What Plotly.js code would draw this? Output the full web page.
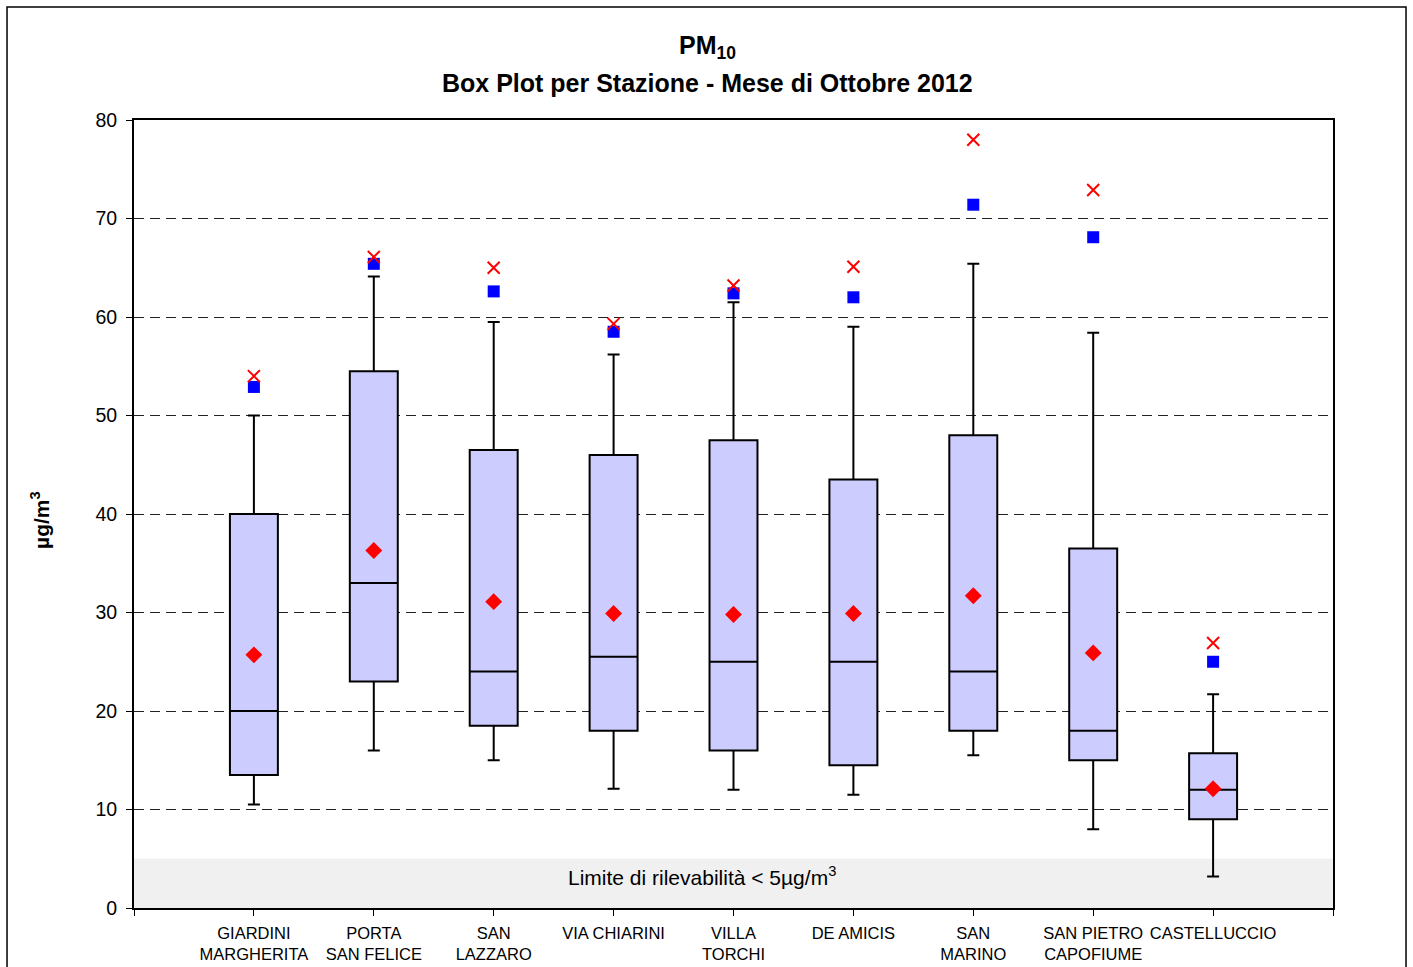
<!DOCTYPE html>
<html>
<head>
<meta charset="utf-8">
<script src="https://cdn.plot.ly/plotly-3.0.1.min.js"></script>
<style>html,body{margin:0;padding:0;background:#fff;}#chart{width:1413px;height:967px;}</style>
</head>
<body>
<div id="chart"></div>
<script>
const stations = ["GIARDINI<br>MARGHERITA","PORTA<br>SAN FELICE","SAN<br>LAZZARO","VIA CHIARINI","VILLA<br>TORCHI","DE AMICIS","SAN<br>MARINO","SAN PIETRO<br>CAPOFIUME","CASTELLUCCIO"];
const positions = [0,1,2,3,4,5,6,7,8];
const minVals    = [10.5, 16.0, 15.0, 12.1, 12.0, 11.5, 15.5,  8.0,  3.2];
const q1Vals     = [13.5, 23.0, 18.5, 18.0, 16.0, 14.5, 18.0, 15.0,  9.0];
const medianVals = [20.0, 33.0, 24.0, 25.5, 25.0, 25.0, 24.0, 18.0, 12.0];
const q3Vals     = [40.0, 54.5, 46.5, 46.0, 47.5, 43.5, 48.0, 36.5, 15.7];
const whiskTop   = [50.0, 64.1, 59.5, 56.2, 61.5, 59.0, 65.4, 58.4, 21.7];
const meanVals   = [25.7, 36.3, 31.1, 29.9, 29.8, 29.9, 31.7, 25.9, 12.1];
const p95Vals    = [52.9, 65.4, 62.6, 58.5, 62.4, 62.0, 71.4, 68.1, 25.0];
const maxVals    = [54.0, 66.1, 65.0, 59.3, 63.2, 65.1, 78.0, 72.9, 26.9];
const yTicks = [0,10,20,30,40,50,60,70,80];
const detectionLimit = 5;

const FONT = "Liberation Sans, Arial, sans-serif";

const traces = [
  {
    type: "box",
    x: positions,
    q1: q1Vals,
    median: medianVals,
    q3: q3Vals,
    lowerfence: minVals,
    upperfence: whiskTop,
    boxpoints: false,
    width: 0.4,
    whiskerwidth: 0.25,
    fillcolor: "#ccccff",
    line: {color: "#000000", width: 2},
    hoverinfo: "skip",
    showlegend: false
  },
  {
    type: "scatter", mode: "markers", x: positions, y: meanVals,
    marker: {symbol: "diamond", size: 13, color: "#ff0000", line: {width: 0}},
    showlegend: false, hoverinfo: "skip"
  },
  {
    type: "scatter", mode: "markers", x: positions, y: p95Vals,
    marker: {symbol: "square", size: 12, color: "#0000ff", line: {width: 0}},
    showlegend: false, hoverinfo: "skip"
  },
  {
    type: "scatter", mode: "markers", x: positions, y: maxVals,
    marker: {symbol: "x-thin-open", size: 12, color: "#ff0000", line: {width: 2, color: "#ff0000"}},
    showlegend: false, hoverinfo: "skip"
  }
];

const layout = {
  width: 1413, height: 967,
  margin: {l: 134, r: 80, t: 120, b: 59},
  paper_bgcolor: "#ffffff", plot_bgcolor: "#ffffff",
  font: {family: FONT, color: "#000000"},
  showlegend: false,
  xaxis: {
    range: [-1, 9],
    tickvals: positions, ticktext: stations,
    ticks: "outside", ticklen: 6, tickwidth: 1, tickcolor: "#000",
    ticklabelstandoff: 3,
    tickfont: {size: 16.5, family: FONT},
    minor: {tickvals: [-1, 9], ticks: "outside", ticklen: 6, tickwidth: 1, tickcolor: "#000", showgrid: false},
    showgrid: false, zeroline: false,
    showline: true, linecolor: "#000", linewidth: 2, mirror: true,
    fixedrange: true
  },
  yaxis: {
    range: [0, 80],
    tickvals: yTicks,
    ticks: "outside", ticklen: 6, tickwidth: 1, tickcolor: "#000",
    ticklabelstandoff: 5,
    tickfont: {size: 19.5, family: FONT},
    showgrid: true, gridcolor: "#222", gridwidth: 1, griddash: "10px,6px",
    zeroline: false,
    showline: true, linecolor: "#000", linewidth: 2, mirror: true,
    fixedrange: true
  },
  shapes: [
    {type: "rect", xref: "x", yref: "y", x0: -1, x1: 9, y0: 0, y1: detectionLimit,
     fillcolor: "#f0f0f0", line: {width: 0}, layer: "below"},
    {type: "rect", xref: "paper", yref: "paper", x0: -0.1059, x1: 1.0609, y0: -0.2, y1: 1.1434,
     fillcolor: "rgba(0,0,0,0)", line: {color: "#000", width: 1.5}}
  ],
  annotations: [
    {xref: "paper", yref: "paper", x: 0.4785, y: 1.0926, xanchor: "center", yanchor: "middle",
     text: "<b>PM<sub>10</sub></b>", showarrow: false, font: {size: 25, family: FONT}},
    {xref: "paper", yref: "paper", x: 0.4785, y: 1.0470, xanchor: "center", yanchor: "middle",
     text: "<b>Box Plot per Stazione - Mese di Ottobre 2012</b>", showarrow: false, font: {size: 25, family: FONT}},
    {xref: "paper", yref: "paper", x: -0.0784, y: 0.4925, xanchor: "center", yanchor: "middle",
     text: "<b>µg/m<sup>3</sup></b>", textangle: -90, showarrow: false, font: {size: 21, family: FONT}},
    {xref: "paper", yref: "y", x: 0.4737, y: 3.3, xanchor: "center", yanchor: "middle",
     text: "Limite di rilevabilità < 5µg/m<sup>3</sup>", showarrow: false, font: {size: 21, family: FONT}}
  ]
};

Plotly.newPlot("chart", traces, layout, {displayModeBar: false, staticPlot: true});
</script>
</body>
</html>
